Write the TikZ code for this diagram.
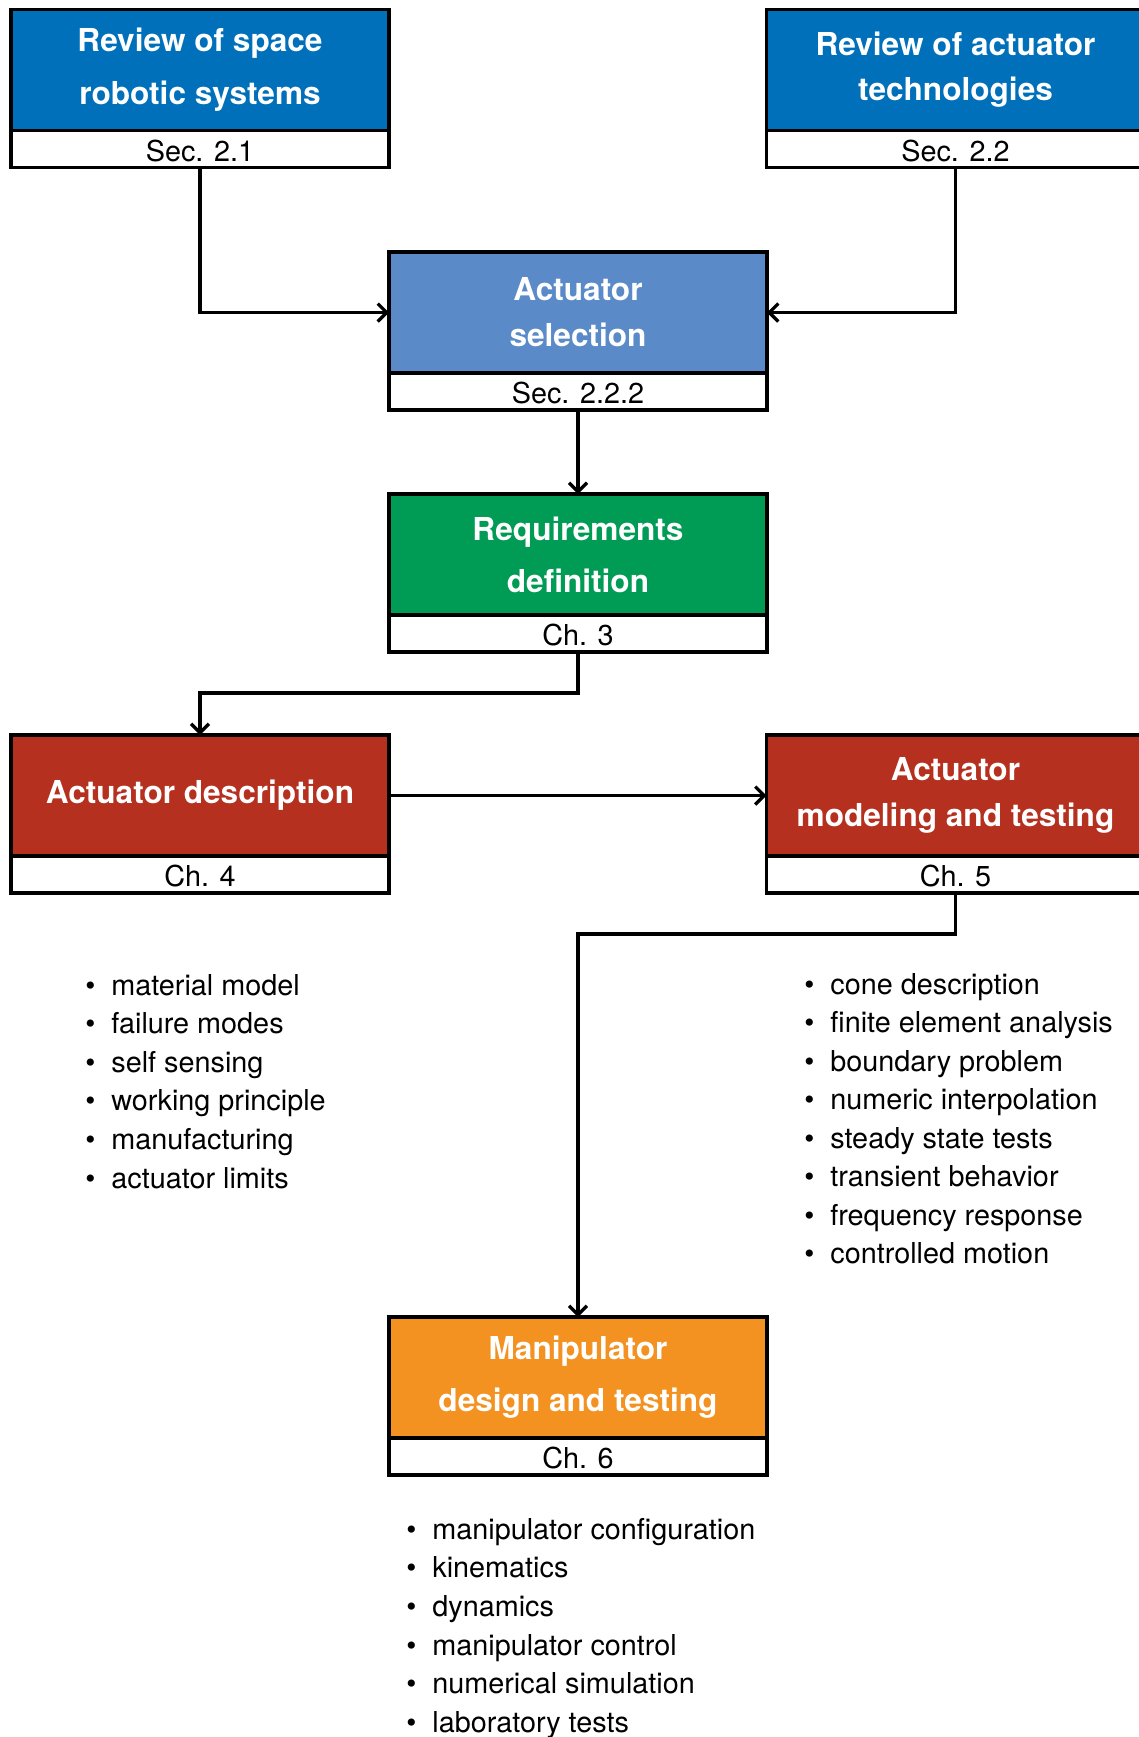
\documentclass[tikz,border=0pt]{standalone}
\usepackage{fontspec}
\setmainfont{TeX Gyre Heros}
\usetikzlibrary{arrows.meta}
\definecolor{cblue}{RGB}{0,112,186}
\definecolor{clightblue}{RGB}{90,139,200}
\definecolor{cgreen}{RGB}{0,155,84}
\definecolor{cred}{RGB}{181,48,30}
\definecolor{corange}{RGB}{243,146,33}
\newcommand\titlefnt[1]{\fontsize{15.8pt}{#1}\selectfont\bfseries}
\newcommand\plainfnt{\fontsize{14.4pt}{17pt}\selectfont}
\begin{document}
\begin{tikzpicture}[x=0.5pt,y=-0.5pt,
  box/.style={draw=black, line width=1.6pt, rectangle, minimum width=189pt,
    outer sep=0pt, inner sep=0pt, anchor=north},
  titlebox/.style={box, minimum height=60.5pt, text=white, align=center, font=\titlefnt{#1}},
  secbox/.style={box, fill=white, minimum height=18.5pt, font=\plainfnt, text height=12pt, text depth=0pt},
  conn/.style={line width=1.6pt, -{Straight Barb[length=4.5pt,width=9pt]}},
  listitem/.style={anchor=base west, inner sep=0pt, font=\plainfnt}
]
\useasboundingbox (0,0) rectangle (1139,1737);

% Row 1
\node[titlebox=26.5pt, fill=cblue] (t1) at (200,9.5) {Review of space\\robotic systems};
\node[secbox] (s1) at (t1.south) {Sec. 2.1};
\node[titlebox=22.5pt, fill=cblue] (t2) at (955.5,9.5) {Review of actuator\\technologies};
\node[secbox] (s2) at (t2.south) {Sec. 2.2};

% Row 2
\node[titlebox=23pt, fill=clightblue] (t3) at (578,252) {Actuator\\selection};
\node[secbox] (s3) at (t3.south) {Sec. 2.2.2};

% Row 3
\node[titlebox=26pt, fill=cgreen] (t4) at (578,494) {Requirements\\definition};
\node[secbox] (s4) at (t4.south) {Ch. 3};

% Row 4
\node[titlebox=20pt, fill=cred] (t5) at (200,735) {Actuator description};
\node[secbox] (s5) at (t5.south) {Ch. 4};
\node[titlebox=23pt, fill=cred] (t6) at (955.5,735) {Actuator\\modeling and testing};
\node[secbox] (s6) at (t6.south) {Ch. 5};

% Row 5
\node[titlebox=26pt, fill=corange] (t7) at (578,1317) {Manipulator\\design and testing};
\node[secbox] (s7) at (t7.south) {Ch. 6};

% Connectors
\draw[conn] (s1.south) |- (t3.west);
\draw[conn] (s2.south) |- (t3.east);
\draw[conn] (s3.south) -- (t4.north);
\draw[conn] (s4.south) -- ++(0,41) -| (t5.north);
\draw[conn] (t5.east) -- (t6.west);
\draw[conn] (s6.south) -- ++(0,41) -| (t7.north);

% Lists
\foreach \t [count=\i] in {material model, failure modes, self sensing,
  working principle, manufacturing, actuator limits}
  \node[listitem] (la\i) at (85,{995+38.6*(\i-1)}) {\makebox[13pt][l]{\textbullet}\t};
\foreach \t [count=\i] in {cone description, finite element analysis, boundary problem,
  numeric interpolation, steady state tests, transient behavior,
  frequency response, controlled motion}
  \node[listitem] (lb\i) at (804,{994+38.5*(\i-1)}) {\makebox[13pt][l]{\textbullet}\t};
\foreach \t [count=\i] in {manipulator configuration, kinematics, dynamics,
  manipulator control, numerical simulation, laboratory tests}
  \node[listitem] (lc\i) at (406,{1539+38.7*(\i-1)}) {\makebox[13pt][l]{\textbullet}\t};
\end{tikzpicture}
\end{document}
